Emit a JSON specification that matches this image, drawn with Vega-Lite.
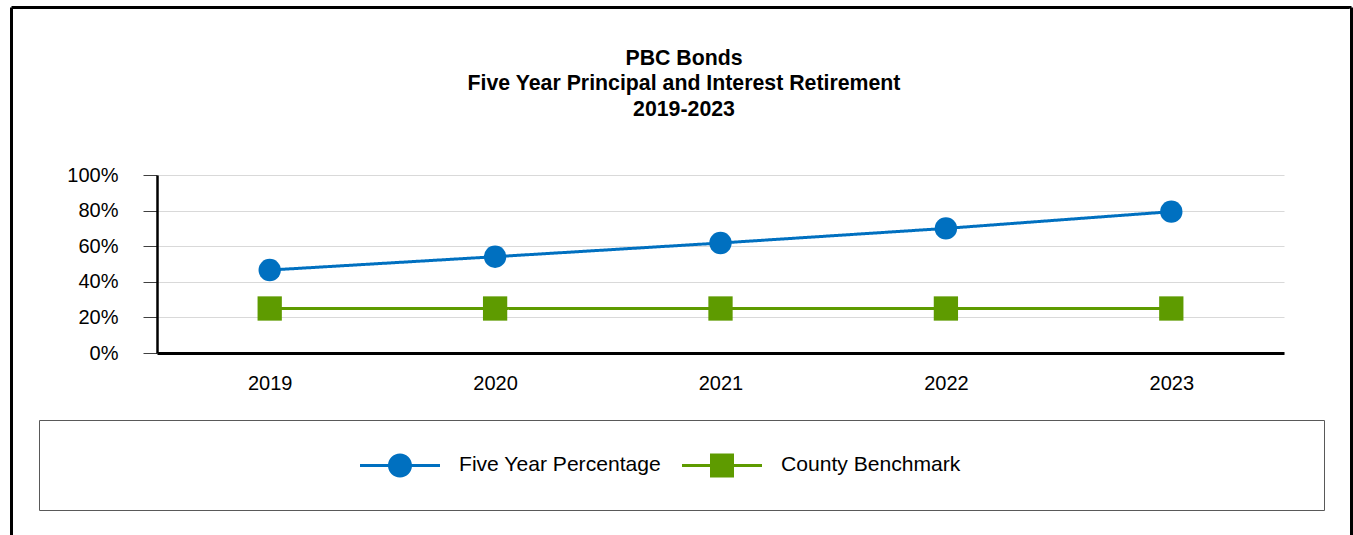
{
  "$schema": "https://vega.github.io/schema/vega-lite/v6.json",
  "width": 1127,
  "height": 178,
  "autosize": {"type": "none"},
  "padding": {"left": 157, "top": 175, "right": 69, "bottom": 182},
  "background": "white",
  "title": {
    "text": ["PBC Bonds", "Five Year Principal and Interest Retirement", "2019-2023"],
    "font": "Liberation Sans",
    "fontSize": 21.3,
    "fontWeight": "bold",
    "color": "black",
    "lineHeight": 25.5,
    "anchor": "middle",
    "frame": "bounds",
    "baseline": "top",
    "offset": -114
  },
  "data": {
    "values": [
      {"year": "2019", "series": "Five Year Percentage", "value": 0.466},
      {"year": "2020", "series": "Five Year Percentage", "value": 0.541},
      {"year": "2021", "series": "Five Year Percentage", "value": 0.618},
      {"year": "2022", "series": "Five Year Percentage", "value": 0.700},
      {"year": "2023", "series": "Five Year Percentage", "value": 0.794},
      {"year": "2019", "series": "County Benchmark", "value": 0.25},
      {"year": "2020", "series": "County Benchmark", "value": 0.25},
      {"year": "2021", "series": "County Benchmark", "value": 0.25},
      {"year": "2022", "series": "County Benchmark", "value": 0.25},
      {"year": "2023", "series": "County Benchmark", "value": 0.25}
    ]
  },
  "encoding": {
    "x": {
      "field": "year", "type": "ordinal",
      "scale": {"type": "point", "padding": 0.5},
      "axis": {
        "title": null, "labelAngle": 0, "ticks": false, "grid": false,
        "domainColor": "black", "domainWidth": 3,
        "labelFont": "Liberation Sans", "labelFontSize": 20, "labelColor": "black", "labelPadding": 20
      }
    },
    "y": {
      "field": "value", "type": "quantitative",
      "scale": {"domain": [0, 1], "nice": false, "zero": true},
      "axis": {
        "title": null, "format": ".0%", "values": [0, 0.2, 0.4, 0.6, 0.8, 1],
        "tickSize": 14, "tickColor": "#404040", "tickWidth": 1,
        "domainColor": "black", "domainWidth": 2.5,
        "grid": true, "gridColor": "#D9D9D9", "gridWidth": 1,
        "labelFont": "Liberation Sans", "labelFontSize": 20, "labelColor": "black", "labelPadding": 25
      }
    },
    "color": {
      "field": "series", "type": "nominal",
      "scale": {"domain": ["Five Year Percentage", "County Benchmark"], "range": ["#0070C0", "#5E9B00"]},
      "legend": {
        "orient": "none", "legendX": -118, "legendY": 245,
        "direction": "horizontal",
        "title": " ", "titleOrient": "left", "titleFontSize": 1, "titleColor": "white", "titlePadding": 316,
        "strokeColor": "#595959", "fillColor": "white", "padding": 5,
        "symbolSize": 6400, "symbolStrokeWidth": 0,
        "labelFont": "Liberation Sans", "labelFontSize": 21.1, "labelColor": "black", "labelOffset": 19, "labelLimit": 500,
        "columnPadding": 20,
        "encode": {
          "symbols": {
            "update": {
              "shape": {"signal": "datum.value === 'Five Year Percentage' ? 'M-1,-0.0375H1V0.0375H-1Z M-0.3,0A0.3,0.3 0 1,1 0.3,0A0.3,0.3 0 1,1 -0.3,0Z M0,0.98' : 'M-1,-0.0375H1V0.0375H-1Z M-0.3,-0.3H0.3V0.3H-0.3Z M14.925,0.98'"},
              "strokeWidth": {"value": 0},
              "opacity": {"value": 1},
              "size": {"value": 6400}
            }
          }
        }
      }
    }
  },
  "layer": [
    {
      "mark": {"type": "line", "strokeWidth": 3},
      "encoding": {
        "strokeDash": {
          "datum": "frame",
          "legend": {
            "orient": "none", "legendX": -147, "legendY": -169,
            "title": null, "padding": 0,
            "symbolType": "M-1,-1H1V0.2H-1Z", "symbolSize": 1795600,
            "symbolStrokeWidth": 3, "symbolStrokeColor": "black", "symbolFillColor": "transparent",
            "labelExpr": "''", "labelFontSize": 1,
            "encode": {
              "symbols": {
                "update": {
                  "stroke": {"value": "black"},
                  "strokeWidth": {"value": 3},
                  "fill": {"value": "transparent"},
                  "opacity": {"value": 1}
                }
              }
            }
          }
        }
      }
    },
    {
      "transform": [{"filter": "datum.series === 'Five Year Percentage'"}],
      "mark": {"type": "point", "filled": true, "opacity": 1, "shape": "circle", "size": 500}
    },
    {
      "transform": [{"filter": "datum.series === 'County Benchmark'"}],
      "mark": {"type": "point", "filled": true, "opacity": 1, "shape": "square", "size": 590}
    }
  ],
  "config": {
    "view": {"stroke": null}
  }
}
